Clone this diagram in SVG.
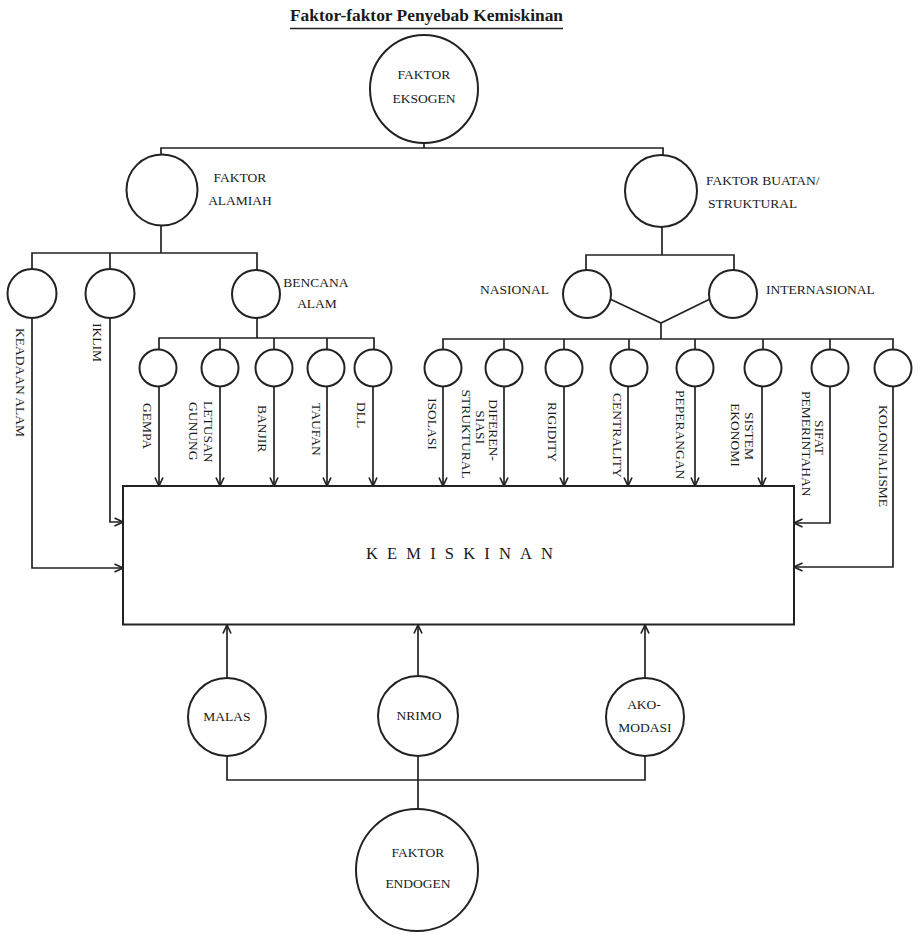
<svg xmlns="http://www.w3.org/2000/svg" width="920" height="934" viewBox="0 0 920 934">
<style>
  .n circle{fill:#fff;stroke:#222;stroke-width:2}
  .box{fill:#fff;stroke:#222;stroke-width:2}
  text{font-family:"Liberation Serif","Times New Roman",serif;fill:#1a1a1a;font-size:13.5px}
  .c{text-anchor:middle}
  .w path{fill:none;stroke:#222;stroke-width:1.7}
  .ar{marker-end:url(#a)}
  .ttl{font-size:17px;font-weight:bold}
  .big{font-size:16.5px}
</style>
<defs>
  <marker id="a" markerUnits="userSpaceOnUse" markerWidth="12" markerHeight="12" refX="9.5" refY="5" orient="auto">
    <path d="M1,1 L9.5,5 L1,9" fill="none" stroke="#222" stroke-width="1.7"/>
  </marker>
</defs>
<rect width="920" height="934" fill="#fff"/>

<g id="title">
  <text class="ttl" x="290" y="21" textLength="273" lengthAdjust="spacingAndGlyphs">Faktor-faktor Penyebab Kemiskinan</text>
  <path d="M290,28.5 H563" stroke="#222" stroke-width="1.6"/>
</g>

<g id="connectors" class="w">
  <path d="M424,143 V148"/>
  <path d="M161,155 V148 H663 V155"/>
  <path d="M161,226 V253"/>
  <path d="M32,269 V253 H257 V270"/>
  <path d="M110,253 V269"/>
  <path d="M257,318 V338"/>
  <path d="M159,350 V338 H374 V350"/>
  <path d="M220,338 V350"/>
  <path d="M274,338 V350"/>
  <path d="M327,338 V350"/>
  <path d="M662,227 V255"/>
  <path d="M586,270 V255 H734 V270"/>
  <path d="M610,299 L661,323 L710,299"/>
  <path d="M661,323 V339"/>
  <path d="M443,350 V339 H893 V350"/>
  <path d="M504,339 V350"/>
  <path d="M564,339 V350"/>
  <path d="M629,339 V350"/>
  <path d="M695,339 V350"/>
  <path d="M763,339 V350"/>
  <path d="M830,339 V350"/>
  <path class="ar" d="M159,387 V486"/>
  <path class="ar" d="M220,387 V486"/>
  <path class="ar" d="M274,387 V486"/>
  <path class="ar" d="M327,387 V486"/>
  <path class="ar" d="M373,387 V486"/>
  <path class="ar" d="M443,387 V486"/>
  <path class="ar" d="M504,387 V486"/>
  <path class="ar" d="M564,387 V486"/>
  <path class="ar" d="M628,387 V486"/>
  <path class="ar" d="M695,387 V486"/>
  <path class="ar" d="M762,387 V486"/>
  <path class="ar" d="M32,318 V568 H123"/>
  <path class="ar" d="M110,318 V522 H123"/>
  <path class="ar" d="M830,387 V523 H794"/>
  <path class="ar" d="M893,387 V567 H794"/>
  <path class="ar" d="M227,678 V625"/>
  <path class="ar" d="M418,676 V625"/>
  <path class="ar" d="M645,678 V625"/>
  <path d="M227,756 V780 H645 V756"/>
  <path d="M418,756 V810"/>
</g>

<g id="eksogen" class="n">
  <circle cx="424" cy="89" r="54"/>
  <text class="c" x="424" y="79">FAKTOR</text>
  <text class="c" x="424" y="103">EKSOGEN</text>
</g>
<g id="alamiah" class="n">
  <circle cx="162" cy="190" r="35.5"/>
  <text class="c" x="240" y="182">FAKTOR</text>
  <text class="c" x="240" y="205">ALAMIAH</text>
</g>
<g id="buatan" class="n">
  <circle cx="661" cy="191" r="36"/>
  <text x="706" y="185">FAKTOR BUATAN/</text>
  <text x="708" y="208">STRUKTURAL</text>
</g>
<g id="keadaan-alam" class="n">
  <circle cx="32" cy="293.5" r="24.5"/>
  <text transform="translate(16,328) rotate(90)">KEADAAN ALAM</text>
</g>
<g id="iklim" class="n">
  <circle cx="110" cy="293.5" r="24.5"/>
  <text transform="translate(93,323) rotate(90)">IKLIM</text>
</g>
<g id="bencana-alam" class="n">
  <circle cx="256" cy="294" r="24"/>
  <text class="c" x="316" y="287">BENCANA</text>
  <text class="c" x="317" y="308">ALAM</text>
</g>
<g id="nasional" class="n">
  <circle cx="587" cy="294" r="24"/>
  <text x="480" y="294">NASIONAL</text>
</g>
<g id="internasional" class="n">
  <circle cx="733" cy="294" r="24"/>
  <text x="766" y="294">INTERNASIONAL</text>
</g>

<g id="gempa" class="n">
  <circle cx="158" cy="368" r="18.5"/>
  <text transform="translate(143,403) rotate(90)">GEMPA</text>
</g>
<g id="letusan-gunung" class="n">
  <circle cx="220" cy="368" r="18.5"/>
  <text transform="translate(204,401) rotate(90)">LETUSAN</text>
  <text transform="translate(189,402) rotate(90)">GUNUNG</text>
</g>
<g id="banjir" class="n">
  <circle cx="274" cy="368" r="18.5"/>
  <text transform="translate(258,405) rotate(90)">BANJIR</text>
</g>
<g id="taufan" class="n">
  <circle cx="326" cy="368" r="18.5"/>
  <text transform="translate(312,403) rotate(90)">TAUFAN</text>
</g>
<g id="dll" class="n">
  <circle cx="373" cy="368" r="18.5"/>
  <text transform="translate(357,402) rotate(90)">DLL</text>
</g>

<g id="isolasi" class="n">
  <circle cx="443" cy="368" r="18.5"/>
  <text transform="translate(428,398) rotate(90)">ISOLASI</text>
</g>
<g id="diferensiasi-struktural" class="n">
  <circle cx="504" cy="368" r="18.5"/>
  <text class="c" transform="translate(489,430) rotate(90)">DIFEREN-</text>
  <text class="c" transform="translate(476,427) rotate(90)">SIASI</text>
  <text class="c" transform="translate(462,434) rotate(90)">STRUKTURAL</text>
</g>
<g id="rigidity" class="n">
  <circle cx="564" cy="368" r="18.5"/>
  <text transform="translate(548,402) rotate(90)">RIGIDITY</text>
</g>
<g id="centrality" class="n">
  <circle cx="629" cy="368" r="18.5"/>
  <text transform="translate(613,393) rotate(90)">CENTRALITY</text>
</g>
<g id="peperangan" class="n">
  <circle cx="695" cy="368" r="18.5"/>
  <text transform="translate(676,390) rotate(90)">PEPERANGAN</text>
</g>
<g id="sistem-ekonomi" class="n">
  <circle cx="763" cy="368" r="18.5"/>
  <text class="c" transform="translate(745,436) rotate(90)">SISTEM</text>
  <text class="c" transform="translate(731,435) rotate(90)">EKONOMI</text>
</g>
<g id="sifat-pemerintahan" class="n">
  <circle cx="830" cy="368" r="18.5"/>
  <text transform="translate(815,420) rotate(90)">SIFAT</text>
  <text transform="translate(802,391) rotate(90)">PEMERINTAHAN</text>
</g>
<g id="kolonialisme" class="n">
  <circle cx="893" cy="368" r="18.5"/>
  <text transform="translate(879,405) rotate(90)">KOLONIALISME</text>
</g>

<g id="kemiskinan">
  <rect class="box" x="123" y="486" width="671" height="138.5"/>
  <text class="big" x="366" y="559" textLength="187" lengthAdjust="spacing">KEMISKINAN</text>
</g>

<g id="malas" class="n">
  <circle cx="227" cy="717" r="39"/>
  <text class="c" x="227" y="721">MALAS</text>
</g>
<g id="nrimo" class="n">
  <circle cx="418" cy="716" r="40"/>
  <text class="c" x="419" y="720">NRIMO</text>
</g>
<g id="akomodasi" class="n">
  <circle cx="645" cy="717" r="39"/>
  <text class="c" x="644" y="709">AKO-</text>
  <text class="c" x="645" y="732">MODASI</text>
</g>
<g id="endogen" class="n">
  <circle cx="417" cy="870" r="61"/>
  <text class="c" x="418" y="857">FAKTOR</text>
  <text class="c" x="418" y="888">ENDOGEN</text>
</g>
</svg>
